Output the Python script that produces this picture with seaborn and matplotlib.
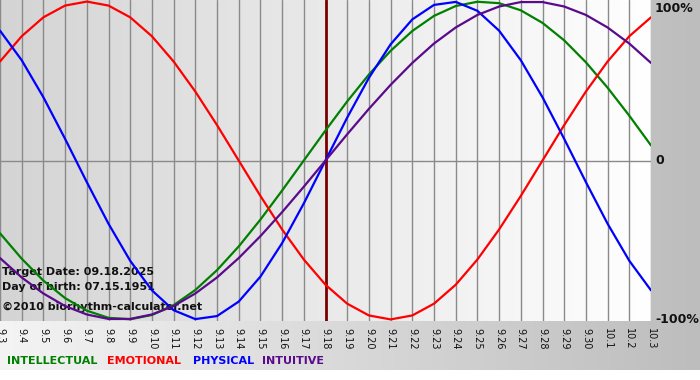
import numpy as np
import pandas as pd
import matplotlib
matplotlib.use("Agg")
import matplotlib.pyplot as plt
from matplotlib.colors import LinearSegmentedColormap
import seaborn as sns

# ---- data ----
dates = ["9.3", "9.4", "9.5", "9.6", "9.7", "9.8", "9.9", "9.10", "9.11", "9.12",
         "9.13", "9.14", "9.15", "9.16", "9.17", "9.18", "9.19", "9.20", "9.21", "9.22",
         "9.23", "9.24", "9.25", "9.26", "9.27", "9.28", "9.29", "9.30", "10.1", "10.2", "10.3"]

intellectual = [-0.458, -0.618, -0.756, -0.866, -0.945, -0.990, -0.999, -0.972, -0.910, -0.815,
                -0.690, -0.541, -0.372, -0.189, 0.000, 0.189, 0.372, 0.541, 0.690, 0.815,
                0.910, 0.972, 0.999, 0.990, 0.945, 0.866, 0.756, 0.618, 0.458, 0.282, 0.095]
emotional = [0.623, 0.782, 0.901, 0.975, 1.000, 0.975, 0.901, 0.782, 0.623, 0.434,
             0.223, 0.000, -0.223, -0.434, -0.623, -0.782, -0.901, -0.975, -1.000, -0.975,
             -0.901, -0.782, -0.623, -0.434, -0.223, 0.000, 0.223, 0.434, 0.623, 0.782, 0.901]
physical = [0.817, 0.631, 0.398, 0.136, -0.136, -0.398, -0.631, -0.817, -0.942, -0.998,
            -0.979, -0.888, -0.731, -0.520, -0.270, 0.000, 0.270, 0.520, 0.731, 0.888,
            0.979, 0.998, 0.942, 0.817, 0.631, 0.398, 0.136, -0.136, -0.398, -0.631, -0.817]
intuitive = [-0.614, -0.736, -0.837, -0.916, -0.969, -0.997, -0.997, -0.969, -0.916, -0.837,
             -0.736, -0.614, -0.476, -0.325, -0.165, 0.000, 0.165, 0.325, 0.476, 0.614,
             0.736, 0.837, 0.916, 0.969, 0.997, 0.997, 0.969, 0.916, 0.837, 0.736, 0.614]

series_names = ["INTELLECTUAL", "EMOTIONAL", "PHYSICAL", "INTUITIVE"]
series_colors = ["#008000", "#ff0000", "#0000ff", "#5a0a8c"]
target_date = "9.18"
y_ticks = [1.0, 0.0, -1.0]
y_labels = ["100%", "0", "-100%"]
info_lines = ["Target Date: 09.18.2025", "Day of birth: 07.15.1951"]
credit = "\u00a92010 biorhythm-calculator.net"

# ---- long-form table ----
idx = list(range(len(dates)))
frames = []
for name, vals in zip(series_names, [intellectual, emotional, physical, intuitive]):
    frames.append(pd.DataFrame({"day": idx, "value": vals, "cycle": name}))
df = pd.concat(frames, ignore_index=True)

sns.set_style("white")
plt.rcParams["font.family"] = ["DejaVu Sans"]

W, H = 700, 380
fig = plt.figure(figsize=(W / 100, H / 100), dpi=100)
fig.patch.set_facecolor("white")

# figure background gradient (light left -> gray right), white strip at bottom
bg = fig.add_axes([0, 10 / H, 1, 1 - 10 / H])
bg_cmap = LinearSegmentedColormap.from_list("bg", ["#f4f4f4", "#bdbdbd"])
bg.imshow(np.linspace(0, 1, 256).reshape(1, -1), cmap=bg_cmap, aspect="auto",
          extent=[0, 1, 0, 1])
bg.set_axis_off()

# main axes
ax_left, ax_right = 0.0, 651 / W
ax_bottom = (H - 321) / H
ax = fig.add_axes([ax_left, ax_bottom, ax_right - ax_left, 1 - ax_bottom])
ax_cmap = LinearSegmentedColormap.from_list("ax", ["#d4d4d4", "#ffffff"])
x0, x1 = 0, len(dates) - 1
y0, y1 = -1.01, 1.01
ax.imshow(np.linspace(0, 1, 256).reshape(1, -1), cmap=ax_cmap, aspect="auto",
          extent=[x0, x1, y0, y1], zorder=0)

# grid
for i in idx:
    ax.axvline(i, color="#8a8a8a", lw=1.0, zorder=1)
ax.axhline(0, color="#8a8a8a", lw=1.0, zorder=1)

# info text (under the curves)
ax.text(0.1, -0.70, info_lines[0], fontsize=8, fontweight="bold", color="#111111",
        va="center", ha="left", zorder=1.5)
ax.text(0.1, -0.795, info_lines[1], fontsize=8, fontweight="bold", color="#111111",
        va="center", ha="left", zorder=1.5)
ax.text(0.1, -0.92, credit, fontsize=8, fontweight="bold", color="#111111",
        va="center", ha="left", zorder=1.5)

# target line
ax.axvline(dates.index(target_date), color="#7a0000", lw=2.0, zorder=2)

sns.lineplot(data=df, x="day", y="value", hue="cycle", hue_order=series_names,
             palette=series_colors, linewidth=1.6, legend=False, ax=ax, zorder=3,
             estimator=None)

ax.set_xlim(x0, x1)
ax.set_ylim(y0, y1)
ax.set_xticks(idx)
ax.set_xticklabels(dates, rotation=-90, fontsize=7, color="#111111")
ax.tick_params(axis="x", length=4, width=1, color="#8a8a8a", pad=1)
ax.set_yticks([])
ax.set_xlabel("")
ax.set_ylabel("")
for s in ax.spines.values():
    s.set_visible(False)

# right-side percentage labels
for val, lab in zip(y_ticks, y_labels):
    yy = ax_bottom + (val - y0) / (y1 - y0) * (1 - ax_bottom)
    if val == 1.0:
        yy = 1 - 8 / H
    fig.text(655 / W, yy, lab, fontsize=9, fontweight="bold", color="#111111",
             ha="left", va="center")

# legend text row
legend_x = [7, 107, 193, 262]
for name, col, lx in zip(series_names, series_colors, legend_x):
    fig.text(lx / W, 1 - 361 / H, name, fontsize=8, fontweight="bold", color=col,
             ha="left", va="center")

fig.savefig("out.png", dpi=100)
